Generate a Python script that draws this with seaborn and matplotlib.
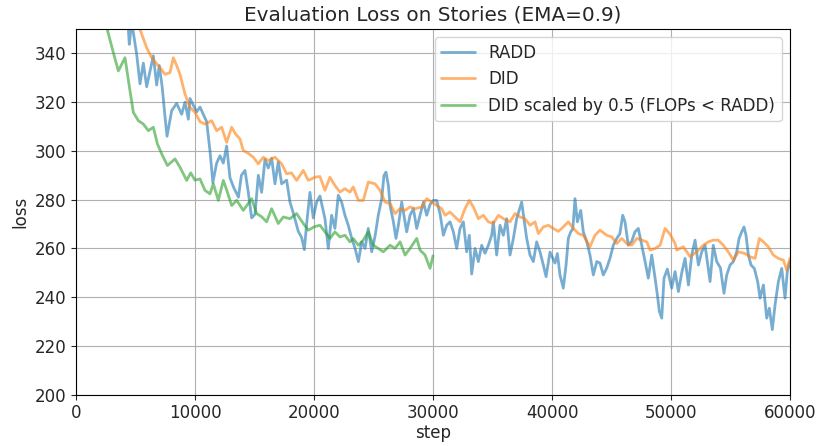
import matplotlib
matplotlib.use("Agg")
import matplotlib.pyplot as plt
import seaborn as sns

# values (EMA-smoothed eval loss)
radd_steps = [
    0, 1000, 2000, 3000, 4000, 4400, 4480, 4680, 5100, 5380,
    5660, 5940, 6500, 6780, 7000, 7250, 7480, 7650, 8040, 8460,
    8880, 9160, 9440, 9580, 10140, 10420, 10700, 10980, 11260, 11500,
    11820, 12100, 12380, 12660, 12940, 13250, 13650, 13900, 14200, 14480,
    14760, 15040, 15320, 15600, 15880, 16160, 16440, 16720, 17000, 17280,
    17700, 17980, 18260, 18680, 18960, 19190, 19380, 19660, 19940, 20220,
    20500, 20920, 21200, 21480, 21760, 22040, 22320, 22600, 22880, 23170,
    23450, 23730, 24010, 24290, 24560, 24850, 25130, 25400, 25690, 25880,
    26050, 26250, 26390, 26670, 26890, 27090, 27370, 27790, 28070, 28350,
    28630, 28910, 29190, 29470, 29750, 30020, 30310, 30600, 30870, 31150,
    31430, 31710, 31990, 32270, 32550, 32830, 33050, 33250, 33530, 33810,
    34090, 34370, 34650, 34930, 35070, 35350, 35630, 35910, 36190, 36470,
    36750, 37030, 37450, 37870, 38150, 38430, 38710, 38990, 39270, 39500,
    39830, 40250, 40450, 40670, 40950, 41180, 41370, 41570, 41750, 41930,
    42130, 42410, 42630, 42920, 43190, 43470, 43760, 44030, 44310, 44600,
    44870, 45150, 45440, 45700, 45940, 46130, 46410, 46700, 46970, 47250,
    47540, 47820, 48090, 48380, 48660, 48850, 49020, 49220, 49410, 49690,
    50060, 50340, 50620, 50900, 51180, 51460, 51740, 52020, 52300, 52580,
    52860, 53280, 53550, 53840, 54150, 54450, 54680, 54960, 55240, 55520,
    55720, 55940, 56130, 56300, 56500, 56720, 57000, 57280, 57480, 57760,
    58040, 58260, 58510, 58740, 59020, 59300, 59580, 59770, 60000,
]
radd_loss = [
    470, 440, 410, 380, 356, 350, 343.7, 353, 339.6, 327.5,
    336, 326.3, 339, 327, 335, 326, 314, 306, 316.5, 319.5,
    315, 320, 313, 321.5, 316, 318, 315, 312, 300, 287,
    295, 298, 295, 302, 289, 285, 281, 290, 292, 283,
    272.5, 274, 290, 283, 296.5, 293, 297, 286.5, 295.5, 286.5,
    288, 279, 274.5, 267, 264.5, 259.5, 270, 283, 272.5, 279,
    281.5, 272.2, 260, 273.6, 268.2, 281.8, 279, 273.6, 269.5, 264.1,
    260, 254.6, 262.7, 260, 268.2, 258.6, 265, 273.6, 280.4, 289.9,
    291.3, 285.8, 277.6, 270.9, 264.1, 269.5, 279, 266.8, 273.6, 276.3,
    268.2, 273.6, 279, 273.6, 278, 279.7, 279.7, 274, 265.4, 269.5,
    270.9, 266.8, 260, 268.2, 270.9, 258.6, 265.4, 249.5, 260, 254.6,
    261.3, 258, 261.3, 265.4, 270.9, 257.3, 269.5, 265.4, 272.2, 257.3,
    264, 272.2, 279, 264.1, 257.3, 254.6, 262.7, 258.6, 253.2, 248.4,
    258.5, 254, 257.9, 249.1, 243.7, 253.2, 264.1, 266.8, 268, 280.4,
    270.9, 275.6, 266.8, 262.7, 257.3, 249.1, 254.6, 254, 249.1, 252,
    255.9, 261.3, 264.1, 266, 273.6, 270.9, 261.3, 263, 266.8, 268.2,
    261.3, 254.6, 247.8, 257.3, 247.8, 241, 234.2, 231.4, 247.8, 251.5,
    243.7, 250.5, 242.3, 250, 255.9, 245, 257.3, 263.4, 253.2, 258.6,
    261.3, 246.4, 261.3, 254.6, 252, 241.6, 249.1, 253.2, 254.6, 258.6,
    264.1, 266.8, 268.8, 265.4, 257.3, 253.2, 251.8, 246.4, 239.6, 245,
    231.4, 235.5, 226.7, 236.8, 246.4, 251.8, 239.6, 250.5, 254.6,
]

did_steps = [
    0, 1000, 2000, 3000, 4000, 5000, 5380, 5940, 6360, 7060,
    7480, 7900, 8180, 8460, 8740, 9160, 9580, 10000, 10420, 10840,
    11400, 11820, 12240, 12660, 13080, 13400, 13780, 14060, 14480, 14900,
    15320, 15740, 16160, 16720, 17280, 17700, 18100, 18540, 19100, 19520,
    20080, 20500, 20920, 21340, 21760, 22180, 22600, 23020, 23300, 23730,
    24140, 24560, 25130, 25550, 25970, 26390, 26810, 27230, 27650, 28070,
    28490, 29050, 29470, 29890, 30310, 30730, 31010, 31430, 31850, 32270,
    32690, 33050, 33390, 33810, 34230, 34650, 35070, 35490, 35910, 36470,
    36890, 37310, 37730, 38150, 38570, 38850, 39270, 39690, 40110, 40530,
    40810, 41370, 41790, 42210, 42630, 43190, 43610, 44030, 44600, 45020,
    45440, 45860, 46280, 46700, 47120, 47540, 47960, 48240, 48660, 49080,
    49500, 49920, 50340, 50480, 50760, 51030, 51600, 52160, 52710, 53130,
    53550, 53970, 54390, 54810, 55240, 55660, 56220, 56640, 57060, 57420,
    57760, 58170, 58590, 59020, 59440, 59720, 60000,
]
did_loss = [
    440, 420, 400, 382, 366, 354, 349.8, 342.3, 338.2, 334.1,
    331.4, 332.1, 338.2, 335, 331.4, 323.3, 317.8, 315.8, 312, 311,
    312.4, 308.3, 309.7, 303.5, 309.7, 307, 304.9, 300.1, 299, 297.4,
    294.7, 297.4, 296, 297.4, 294.7, 290.6, 291, 287.9, 292, 287.9,
    289.2, 289.5, 283.8, 289.2, 285.8, 283.1, 284.5, 283.1, 285.2, 279.7,
    279.7, 287.2, 286.5, 283.8, 279, 278.4, 274.3, 276.3, 275.6, 277,
    276.3, 277, 280.4, 279, 277.6, 276.3, 273.6, 274.9, 272.9, 270.9,
    276.3, 279.7, 277, 272.2, 273.6, 270.9, 270.2, 273.6, 272.2, 270.9,
    274.3, 272.9, 272.2, 269.5, 270.9, 266.1, 268.8, 269.5, 268.2, 267,
    268.2, 270.9, 268.2, 266.1, 265.4, 260.7, 265.4, 267.5, 265.4, 264.7,
    262, 264.1, 262, 261.3, 264.1, 263.4, 262.7, 259.3, 260, 261.3,
    268.2, 265.8, 262, 259.3, 260, 260.7, 256.6, 258.6, 261.3, 262.7,
    263.4, 263.4, 261.3, 258.6, 255.2, 258.6, 257.9, 256.6, 255.9, 264.1,
    262.7, 260.7, 257.3, 255.9, 255.2, 251.1, 256,
]

did_scaled_steps = [
    0, 1000, 2000, 2630, 3140, 3560, 4120, 4540, 4820, 5240,
    5660, 6080, 6500, 6840, 7200, 7680, 8320, 8740, 9300, 9640,
    10000, 10420, 10840, 11260, 11540, 11960, 12380, 12660, 13080, 13500,
    14060, 14760, 15180, 15600, 16020, 16440, 17000, 17420, 17980, 18540,
    19100, 19520, 20080, 20500, 20920, 21340, 21760, 22180, 22600, 23020,
    23300, 23730, 24140, 24560, 24980, 25400, 25820, 26390, 26810, 27230,
    27650, 28070, 28630, 28910, 29330, 29750, 30000,
]
did_scaled_loss = [
    420, 390, 362, 349.8, 340.3, 332.8, 338.2, 324.6, 315.8, 312.4,
    311, 308.3, 309.7, 302.9, 298.8, 294, 296.7, 293.3, 287.9, 291,
    288, 288.5, 283.8, 282.4, 286.5, 279.7, 287.9, 284, 277.6, 279.7,
    275.6, 280.4, 274.3, 273, 270.9, 276.3, 270.2, 272.9, 272.2, 274.3,
    270.2, 267.5, 269, 269.5, 266.8, 264.1, 266.8, 264.7, 265.4, 262.7,
    264, 261.3, 263.4, 266.8, 261.3, 260, 258.6, 261.3, 260, 262.7,
    257.3, 260, 264.1, 259.3, 257.3, 251.8, 257,
]

labels = ["RADD", "DID", "DID scaled by 0.5 (FLOPs < RADD)"]

sns.set_style("ticks")
plt.rcParams["axes.grid"] = True
plt.rcParams["grid.color"] = "#b0b0b0"
plt.rcParams["grid.linewidth"] = 0.8
plt.rcParams["font.size"] = 12
plt.rcParams["font.family"] = ["DejaVu Sans"]

fig, ax = plt.subplots(figsize=(8.17, 4.46), dpi=100)
palette = sns.color_palette("tab10")

series = [
    (radd_steps, radd_loss, labels[0], palette[0]),
    (did_steps, did_loss, labels[1], palette[1]),
    (did_scaled_steps, did_scaled_loss, labels[2], palette[2]),
]
for xs, ys, name, col in series:
    sns.lineplot(x=xs, y=ys, ax=ax, label=name, color=col,
                 alpha=0.6, linewidth=2, estimator=None, sort=False)

ax.set_xlim(0, 60000)
ax.set_ylim(200, 350)
ax.set_xlabel("step", fontsize=12, labelpad=1)
ax.set_ylabel("loss", fontsize=12)
ax.set_title("Evaluation Loss on Stories (EMA=0.9)", fontsize=14.4)
ax.tick_params(labelsize=12)
for sp in ax.spines.values():
    sp.set_color("black")
    sp.set_linewidth(0.8)
ax.legend(loc="upper right", fontsize=12)

fig.subplots_adjust(left=0.093, right=0.967, top=0.935, bottom=0.115)
fig.savefig("out.png", dpi=100)
